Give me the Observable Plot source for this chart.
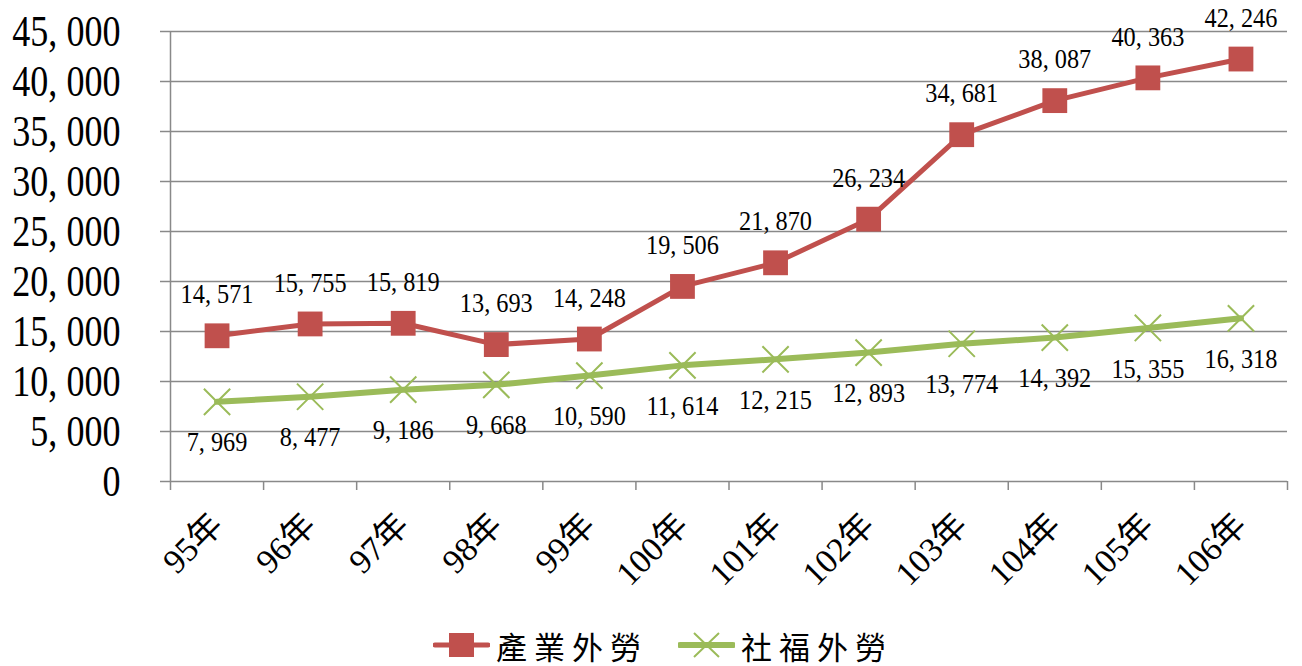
<!DOCTYPE html>
<html><head><meta charset="utf-8">
<script src="https://cdn.jsdelivr.net/npm/d3@7"></script>
<script src="https://cdn.jsdelivr.net/npm/@observablehq/plot@0.6"></script>
<style>
body{margin:0;background:#fff;width:1302px;height:666px;overflow:hidden;position:relative;}
#chart{position:absolute;left:0;top:0;}
#legend{position:absolute;left:12px;top:624px;width:1302px;height:42px;display:flex;justify-content:center;align-items:center;gap:30px;font-family:"Noto Sans CJK TC","Noto Sans CJK SC",sans-serif;font-size:31px;letter-spacing:7px;color:#000;}
#legend .item{display:flex;align-items:center;gap:6px;}
#legend svg{display:block;}
</style></head><body>
<div id="chart"></div><div id="legend"></div>
<script>
const categories = ["95年","96年","97年","98年","99年","100年","101年","102年","103年","104年","105年","106年"];
const industry = [14571,15755,15819,13693,14248,19506,21870,26234,34681,38087,40363,42246];
const welfare = [7969,8477,9186,9668,10590,11614,12215,12893,13774,14392,15355,16318];
const yTicks = [0,5000,10000,15000,20000,25000,30000,35000,40000,45000];
const seriesNames = ["產業外勞","社福外勞"];
const colors = ["#C0504D","#9BBB59"];

const idx = d3.range(categories.length);
const edges = d3.range(categories.length + 1).map(i => i - 0.5);
const fmt = v => d3.format(",")(v).replace(",", ", ");
const rows1 = idx.map(i => ({i, v: industry[i]}));
const rows2 = idx.map(i => ({i, v: welfare[i]}));
const gray = "#898989";

const plot = Plot.plot({
  width: 1302, height: 610,
  marginLeft: 170, marginRight: 15, marginTop: 31, marginBottom: 129,
  x: {domain: [edges[0], edges[edges.length - 1]]},
  y: {domain: [0, 45000]},
  style: {background: "white", fontFamily: "'Liberation Serif', 'Noto Sans CJK TC', serif", color: "black", overflow: "visible"},
  marks: [
    Plot.gridY(yTicks, {stroke: gray, strokeOpacity: 1, strokeWidth: 1.5}),
    Plot.ruleX([edges[0]], {stroke: gray, strokeWidth: 1.5}),
    Plot.axisY(yTicks, {tickSize: 10, tickPadding: 40, tickFormat: fmt, fontSize: 44, stroke: gray, strokeWidth: 1.5, label: null}),
    Plot.axisX(edges, {tickSize: 9, tickFormat: () => "", stroke: gray, strokeWidth: 1.5, label: null}),
    Plot.axisX(idx, {tickSize: 0, tickPadding: 38, tickFormat: i => categories[i], tickRotate: -45, fontSize: 34, label: null}),
    Plot.line(rows1, {x: "i", y: "v", stroke: colors[0], strokeWidth: 5}),
    Plot.dot(rows1, {x: "i", y: "v", symbol: "square", r: 14, fill: colors[0]}),
    Plot.line(rows2, {x: "i", y: "v", stroke: colors[1], strokeWidth: 6}),
    Plot.dot(rows2, {x: "i", y: "v", symbol: "times", r: 12, stroke: colors[1], strokeWidth: 2}),
    Plot.text(rows1, {x: "i", y: "v", text: d => fmt(d.v), dy: -41, fontSize: 27, fill: "black"}),
    Plot.text(rows2, {x: "i", y: "v", text: d => fmt(d.v), dy: 41, fontSize: 27, fill: "black"})
  ]
});
document.getElementById("chart").appendChild(plot);

function squeeze(root, selector, s) {
  root.querySelectorAll(selector).forEach(t => {
    const b = t.getBBox();
    const anchor = getComputedStyle(t).textAnchor;
    const ax = anchor === "end" ? b.x + b.width : anchor === "middle" ? b.x + b.width / 2 : b.x;
    const tr = t.getAttribute("transform") || "";
    t.setAttribute("transform", `${tr} translate(${ax},0) scale(${s},1) translate(${-ax},0)`);
  });
}
squeeze(plot, 'g[aria-label="y-axis tick label"] text', 0.82);
squeeze(plot, 'g[aria-label="text"] text', 0.9);

// legend
const legend = document.getElementById("legend");
seriesNames.forEach((name, k) => {
  const item = document.createElement("div");
  item.className = "item";
  const sym = k === 0
    ? `<rect x="16" y="3" width="25" height="24" fill="${colors[0]}"/>`
    : `<path d="M16,3L41,27M41,3L16,27" stroke="${colors[1]}" stroke-width="2" fill="none"/>`;
  item.innerHTML = `<svg width="57" height="30"><line x1="2" x2="55" y1="15" y2="15" stroke="${colors[k]}" stroke-width="${k === 0 ? 5 : 6}" stroke-linecap="round"/>${sym}</svg><span>${name}</span>`;
  legend.appendChild(item);
});
</script>
</body></html>
